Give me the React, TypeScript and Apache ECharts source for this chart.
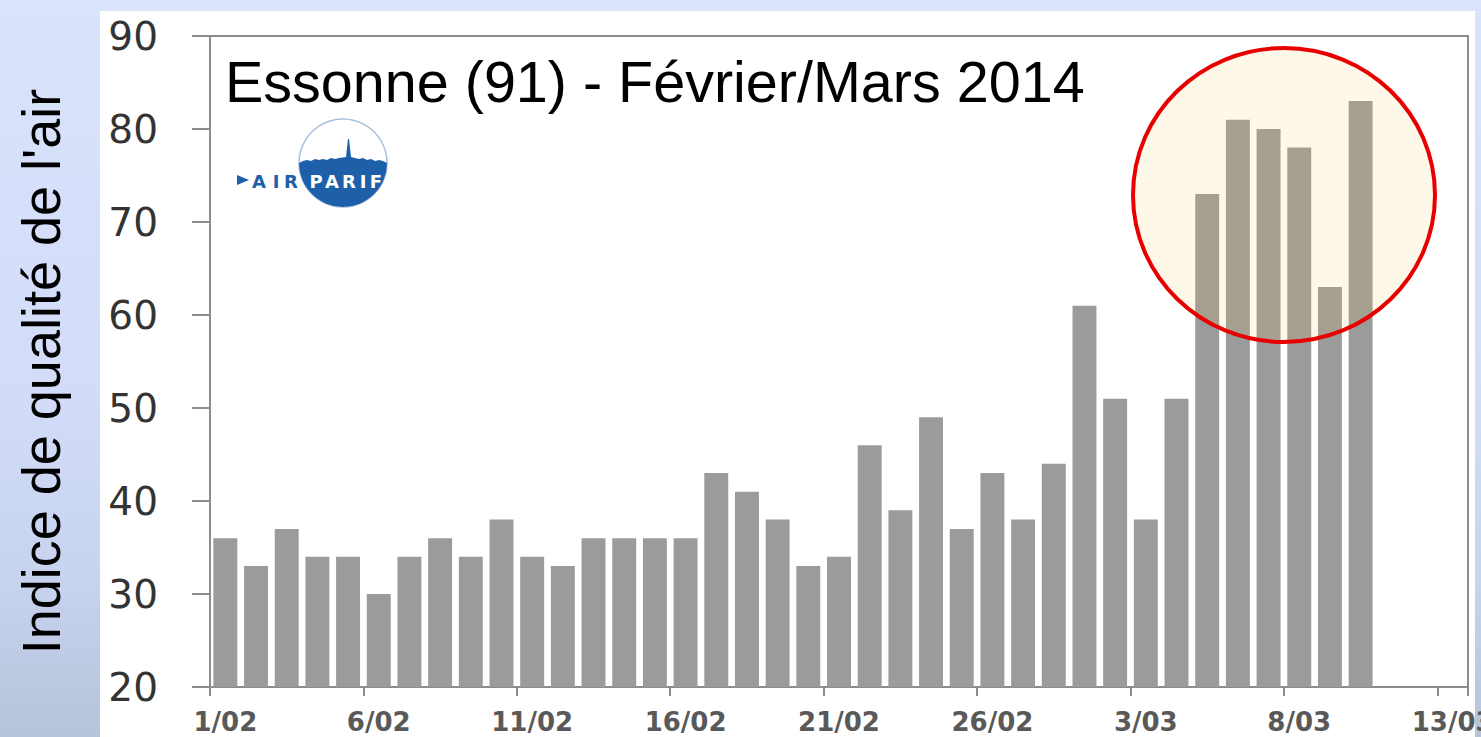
import React, { useEffect, useRef } from "react";
import * as echarts from "echarts";

const dayLabels: string[] = [
  "1/02", "2/02", "3/02", "4/02", "5/02", "6/02", "7/02", "8/02", "9/02", "10/02",
  "11/02", "12/02", "13/02", "14/02", "15/02", "16/02", "17/02", "18/02", "19/02", "20/02",
  "21/02", "22/02", "23/02", "24/02", "25/02", "26/02", "27/02", "28/02",
  "1/03", "2/03", "3/03", "4/03", "5/03", "6/03", "7/03", "8/03", "9/03", "10/03",
  "11/03", "12/03", "13/03",
];

const airIndex: (number | null)[] = [
  36, 33, 37, 34, 34, 30, 34, 36, 34, 38,
  34, 33, 36, 36, 36, 36, 43, 41, 38, 33,
  34, 46, 39, 49, 37, 43, 38, 44,
  61, 51, 38, 51, 73, 81, 80, 78, 63, 83,
  null, null, null,
];

const yTicks = { min: 20, max: 90, step: 10 };

const titleText = "Essonne (91) - Février/Mars 2014";
const yAxisName = "Indice de qualité de l'air";

const logoPath =
  "M -44 0 L -40 -2 L -36 -3 L -32 -2 L -28 -4 L -24 -3 L -20 -4 L -16 -3 L -12 -5 L -8 -4 L -4 -5 L 3 -6 L 5 -24 L 6 -24 L 8 -6 L 12 -5 L 16 -4 L 20 -5 L 24 -3 L 28 -4 L 32 -2 L 36 -3 L 40 -2 L 44 0 A 44 44 0 0 1 -44 0 Z";
echarts.graphic.registerShape("airparifBlue", echarts.graphic.extendPath(logoPath, {}) as any);

const W = 1481;
const H = 737;

export default function App() {
  const ref = useRef<HTMLDivElement>(null);

  useEffect(() => {
    if (!ref.current) return;
    const chart = echarts.init(ref.current, null, { renderer: "svg", width: W, height: H });
    const blue = "#1d5fa8";
    const airLetters = [
      { ch: "A", x: 259 },
      { ch: "I", x: 276 },
      { ch: "R", x: 291 },
    ];
    const parifLetters = [
      { ch: "P", x: 316 },
      { ch: "A", x: 332 },
      { ch: "R", x: 349 },
      { ch: "I", x: 363 },
      { ch: "F", x: 376 },
    ];
    chart.setOption({
      animation: false,
      backgroundColor: "transparent",
      grid: {
        left: 210,
        right: 13,
        top: 36,
        bottom: 50,
        outerBoundsMode: "none",
        containLabel: false,
        show: true,
        borderColor: "#8c8c8c",
        borderWidth: 2,
        backgroundColor: "transparent",
      },
      xAxis: {
        type: "category",
        data: dayLabels,
        boundaryGap: true,
        axisLine: { show: true, lineStyle: { color: "#8c8c8c", width: 2 } },
        axisTick: {
          show: true,
          interval: 4,
          length: 9,
          alignWithLabel: false,
          lineStyle: { color: "#8c8c8c", width: 2 },
        },
        axisLabel: {
          interval: 4,
          margin: 22,
          color: "#595959",
          fontFamily: "DejaVu Sans",
          fontWeight: "bold",
          fontSize: 26,
          hideOverlap: false,
        },
        splitLine: { show: false },
      },
      yAxis: {
        type: "value",
        min: yTicks.min,
        max: yTicks.max,
        interval: yTicks.step,
        name: yAxisName,
        nameLocation: "middle",
        nameRotate: 90,
        nameGap: 142,
        nameTextStyle: {
          fontFamily: "Liberation Sans",
          fontSize: 54,
          color: "#000000",
          padding: [0, 20, 0, 0],
        },
        axisLine: { show: true, lineStyle: { color: "#8c8c8c", width: 2 } },
        axisTick: { show: true, length: 18, lineStyle: { color: "#8c8c8c", width: 2 } },
        axisLabel: {
          margin: 52,
          color: "#333333",
          fontFamily: "DejaVu Sans",
          fontSize: 39,
        },
        splitLine: { show: false },
      },
      series: [
        {
          type: "bar",
          data: airIndex,
          barCategoryGap: "22%",
          itemStyle: { color: "#9b9b9b" },
          z: 2,
        },
      ],
      graphic: [
        {
          type: "text",
          x: 225,
          y: 82,
          z: 20,
          style: {
            text: titleText,
            fontFamily: "Liberation Sans",
            fontSize: 57.5,
            fill: "#000000",
            verticalAlign: "middle",
            align: "left",
          },
        },
        {
          type: "circle",
          z: 20,
          shape: { cx: 343, cy: 163, r: 44 },
          style: { fill: "#ffffff", stroke: "#a9c0dd", lineWidth: 1.5 },
        },
        {
          type: "airparifBlue",
          x: 343,
          y: 163,
          z: 21,
          style: { fill: blue },
        },
        {
          type: "polygon",
          z: 21,
          shape: { points: [[237, 175], [249, 180], [237, 185]] },
          style: { fill: blue },
        },
        ...airLetters.map((l) => ({
          type: "text",
          x: l.x,
          y: 181,
          z: 22,
          style: {
            text: l.ch,
            fontFamily: "DejaVu Sans",
            fontWeight: "bold",
            fontSize: 18,
            fill: blue,
            align: "center",
            verticalAlign: "middle",
          },
        })),
        ...parifLetters.map((l) => ({
          type: "text",
          x: l.x,
          y: 181,
          z: 22,
          style: {
            text: l.ch,
            fontFamily: "DejaVu Sans",
            fontWeight: "bold",
            fontSize: 18,
            fill: "#ffffff",
            align: "center",
            verticalAlign: "middle",
          },
        })),
        {
          type: "ellipse",
          z: 30,
          shape: { cx: 1284, cy: 195, rx: 151, ry: 147 },
          style: {
            fill: "rgba(239,199,71,0.125)",
            stroke: "#e80000",
            lineWidth: 4,
          },
        },
      ],
    });
    return () => chart.dispose();
  }, []);

  return (
    <div
      style={{
        position: "fixed",
        left: 0,
        top: 0,
        width: W,
        height: H,
        background:
          "linear-gradient(to bottom, #d9e3fb 0%, #d2dcf8 55%, #c6d2ee 80%, #b7c3d8 100%)",
        overflow: "hidden",
      }}
    >
      <div
        style={{
          position: "absolute",
          left: 100,
          top: 11,
          width: 1375,
          height: 726,
          background: "#ffffff",
        }}
      />
      <div
        ref={ref}
        style={{ position: "absolute", left: 0, top: 0, width: W, height: H }}
      />
    </div>
  );
}
